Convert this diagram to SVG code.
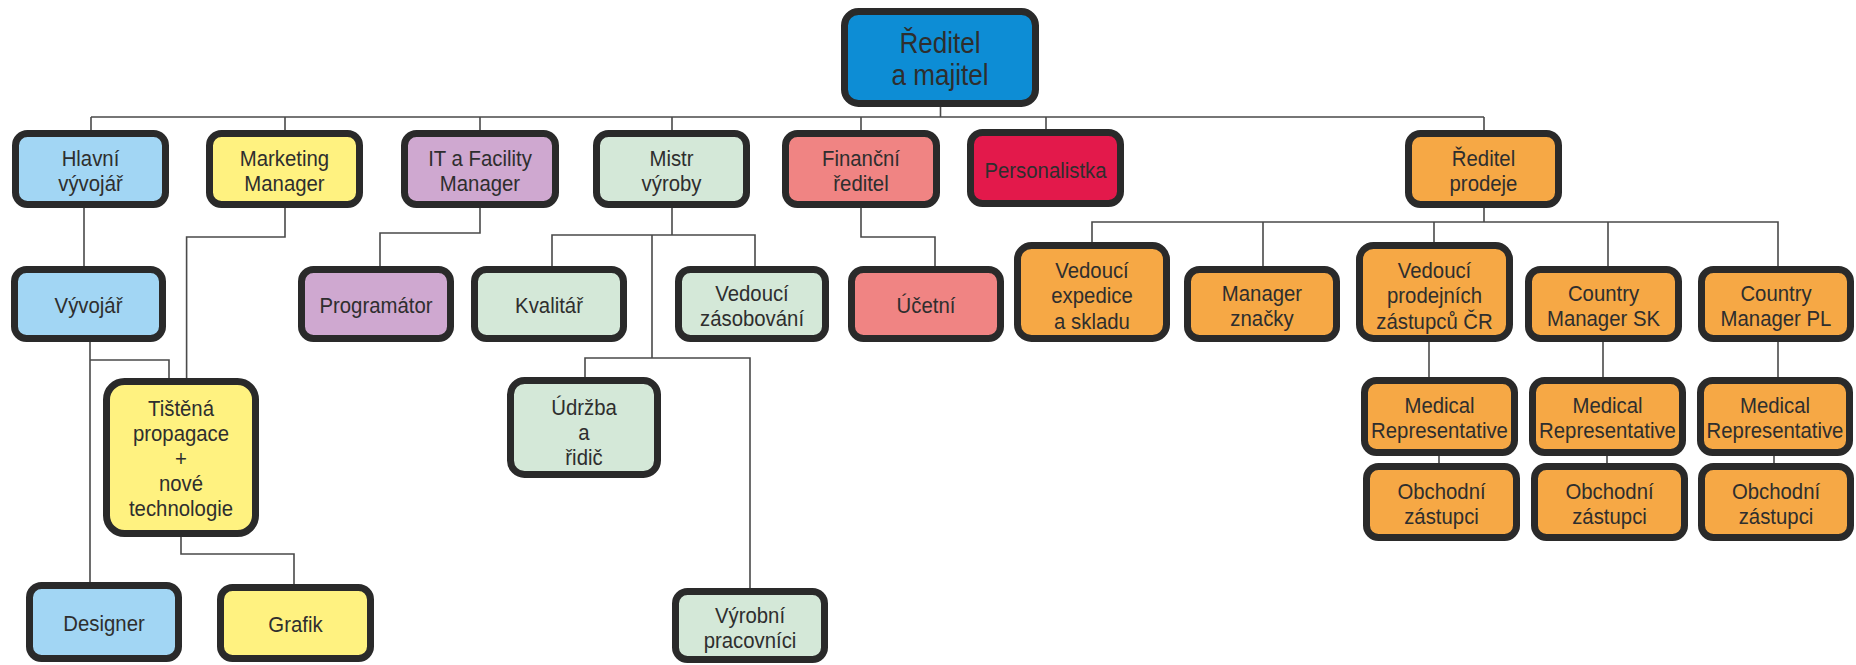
<svg xmlns="http://www.w3.org/2000/svg" width="1856" height="665" viewBox="0 0 1856 665">
<style>
.n rect{stroke:#2a2a2a;stroke-width:7;}
.t{font-family:"Liberation Sans",Arial,sans-serif;font-size:22px;fill:#2e2e2e;text-anchor:middle;}
.big{font-size:29px;}
.blue{fill:#0d8dd5}.lblue{fill:#a2d6f4}.yel{fill:#fff280}.pur{fill:#cfa8d0}.grn{fill:#d4e8d8}.sal{fill:#f08483}.red{fill:#e3194b}.org{fill:#f6a845}
#connectors path{fill:none;stroke:#4a4a4a;stroke-width:1.6;}
</style>
<rect width="1856" height="665" fill="#ffffff"/>
<g id="connectors">
<path d="M940.5 107V117M91 117H1484M91 117V130M285 117V130M480 117V130M672 117V130M861 117V130M1046 117V130M1484 117V130"/>
<path d="M84 208V266"/>
<path d="M90 342V582M90 360H169V378"/>
<path d="M285 208V237H186.6V378"/>
<path d="M181 537V554H294V584"/>
<path d="M480 208V233H380V266"/>
<path d="M672 208V235M552 266V235H755V266M652 235V358M585 377V358H750V588"/>
<path d="M861 208V237H935V266"/>
<path d="M1484 208V222M1092 242V222H1778V266M1263 222V266M1434 222V242M1608 222V266"/>
<path d="M1429 342V377M1603 342V377M1778 342V377"/>
<path d="M1439 456V463M1607 456V463M1774 456V463"/>
</g>
<g id="n-reditel" class="n"><rect x="844.5" y="11.5" width="191" height="92" rx="14" class="blue"/><text class="t big" transform="translate(940 0) scale(0.9 1)"><tspan x="0" y="53">Ředitel</tspan><tspan x="0" y="85">a majitel</tspan></text></g>
<g id="n-hlavni" class="n"><rect x="15.5" y="133.5" width="150" height="71" rx="12" class="lblue"/><text class="t" transform="translate(90.5 0) scale(0.925 1)"><tspan x="0" y="166">Hlavní</tspan><tspan x="0" y="191">vývojář</tspan></text></g>
<g id="n-marketing" class="n"><rect x="209.5" y="133.5" width="150" height="71" rx="12" class="yel"/><text class="t" transform="translate(284.5 0) scale(0.925 1)"><tspan x="0" y="166">Marketing</tspan><tspan x="0" y="191">Manager</tspan></text></g>
<g id="n-it" class="n"><rect x="404.5" y="133.5" width="151" height="71" rx="12" class="pur"/><text class="t" transform="translate(480 0) scale(0.925 1)"><tspan x="0" y="166">IT a Facility</tspan><tspan x="0" y="191">Manager</tspan></text></g>
<g id="n-mistr" class="n"><rect x="596.5" y="133.5" width="150" height="71" rx="12" class="grn"/><text class="t" transform="translate(671.5 0) scale(0.925 1)"><tspan x="0" y="166">Mistr</tspan><tspan x="0" y="191">výroby</tspan></text></g>
<g id="n-financni" class="n"><rect x="785.5" y="133.5" width="151" height="71" rx="12" class="sal"/><text class="t" transform="translate(861 0) scale(0.925 1)"><tspan x="0" y="166">Finanční</tspan><tspan x="0" y="191">ředitel</tspan></text></g>
<g id="n-personalistka" class="n"><rect x="970.5" y="132.5" width="150" height="71" rx="12" class="red"/><text class="t" transform="translate(1045.5 0) scale(0.925 1)"><tspan x="0" y="178">Personalistka</tspan></text></g>
<g id="n-reditel-prodeje" class="n"><rect x="1408.5" y="133.5" width="150" height="71" rx="12" class="org"/><text class="t" transform="translate(1483.5 0) scale(0.925 1)"><tspan x="0" y="166">Ředitel</tspan><tspan x="0" y="191">prodeje</tspan></text></g>
<g id="n-vyvojar" class="n"><rect x="14.5" y="269.5" width="148" height="69" rx="12" class="lblue"/><text class="t" transform="translate(88.5 0) scale(0.925 1)"><tspan x="0" y="313">Vývojář</tspan></text></g>
<g id="n-programator" class="n"><rect x="301.5" y="269.5" width="149" height="69" rx="12" class="pur"/><text class="t" transform="translate(376 0) scale(0.925 1)"><tspan x="0" y="313">Programátor</tspan></text></g>
<g id="n-kvalitar" class="n"><rect x="474.5" y="269.5" width="149" height="69" rx="12" class="grn"/><text class="t" transform="translate(549 0) scale(0.925 1)"><tspan x="0" y="313">Kvalitář</tspan></text></g>
<g id="n-zasobovani" class="n"><rect x="678.5" y="269.5" width="147" height="69" rx="12" class="grn"/><text class="t" transform="translate(752 0) scale(0.925 1)"><tspan x="0" y="301.5">Vedoucí</tspan><tspan x="0" y="326.5">zásobování</tspan></text></g>
<g id="n-ucetni" class="n"><rect x="851.5" y="269.5" width="149" height="69" rx="12" class="sal"/><text class="t" transform="translate(926 0) scale(0.925 1)"><tspan x="0" y="313">Účetní</tspan></text></g>
<g id="n-expedice" class="n"><rect x="1017.5" y="245.5" width="149" height="93" rx="14" class="org"/><text class="t" transform="translate(1092 0) scale(0.925 1)"><tspan x="0" y="278">Vedoucí</tspan><tspan x="0" y="303.5">expedice</tspan><tspan x="0" y="329">a skladu</tspan></text></g>
<g id="n-znacky" class="n"><rect x="1187.5" y="269.5" width="149" height="69" rx="12" class="org"/><text class="t" transform="translate(1262 0) scale(0.925 1)"><tspan x="0" y="301.5">Manager</tspan><tspan x="0" y="326.5">značky</tspan></text></g>
<g id="n-prodejnich" class="n"><rect x="1359.5" y="245.5" width="150" height="93" rx="14" class="org"/><text class="t" transform="translate(1434.5 0) scale(0.925 1)"><tspan x="0" y="278">Vedoucí</tspan><tspan x="0" y="303.5">prodejních</tspan><tspan x="0" y="329">zástupců ČR</tspan></text></g>
<g id="n-cm-sk" class="n"><rect x="1528.5" y="269.5" width="150" height="69" rx="12" class="org"/><text class="t" transform="translate(1603.5 0) scale(0.925 1)"><tspan x="0" y="301.5">Country</tspan><tspan x="0" y="326.5">Manager SK</tspan></text></g>
<g id="n-cm-pl" class="n"><rect x="1701.5" y="269.5" width="149" height="69" rx="12" class="org"/><text class="t" transform="translate(1776 0) scale(0.925 1)"><tspan x="0" y="301.5">Country</tspan><tspan x="0" y="326.5">Manager PL</tspan></text></g>
<g id="n-tistena" class="n"><rect x="106.5" y="381.5" width="149" height="152" rx="18" class="yel"/><text class="t" transform="translate(181 0) scale(0.925 1)"><tspan x="0" y="416">Tištěná</tspan><tspan x="0" y="441">propagace</tspan><tspan x="0" y="466">+</tspan><tspan x="0" y="491">nové</tspan><tspan x="0" y="516">technologie</tspan></text></g>
<g id="n-udrzba" class="n"><rect x="510.5" y="380.5" width="147" height="94" rx="14" class="grn"/><text class="t" transform="translate(584 0) scale(0.925 1)"><tspan x="0" y="415">Údržba</tspan><tspan x="0" y="440">a</tspan><tspan x="0" y="465">řidič</tspan></text></g>
<g id="n-mr1" class="n"><rect x="1364.5" y="380.5" width="150" height="72" rx="12" class="org"/><text class="t" transform="translate(1439.5 0) scale(0.925 1)"><tspan x="0" y="413">Medical</tspan><tspan x="0" y="438">Representative</tspan></text></g>
<g id="n-mr2" class="n"><rect x="1532.5" y="380.5" width="150" height="72" rx="12" class="org"/><text class="t" transform="translate(1607.5 0) scale(0.925 1)"><tspan x="0" y="413">Medical</tspan><tspan x="0" y="438">Representative</tspan></text></g>
<g id="n-mr3" class="n"><rect x="1700.5" y="380.5" width="149" height="72" rx="12" class="org"/><text class="t" transform="translate(1775 0) scale(0.925 1)"><tspan x="0" y="413">Medical</tspan><tspan x="0" y="438">Representative</tspan></text></g>
<g id="n-oz1" class="n"><rect x="1366.5" y="466.5" width="150" height="71" rx="12" class="org"/><text class="t" transform="translate(1441.5 0) scale(0.925 1)"><tspan x="0" y="499">Obchodní</tspan><tspan x="0" y="524">zástupci</tspan></text></g>
<g id="n-oz2" class="n"><rect x="1534.5" y="466.5" width="150" height="71" rx="12" class="org"/><text class="t" transform="translate(1609.5 0) scale(0.925 1)"><tspan x="0" y="499">Obchodní</tspan><tspan x="0" y="524">zástupci</tspan></text></g>
<g id="n-oz3" class="n"><rect x="1701.5" y="466.5" width="149" height="71" rx="12" class="org"/><text class="t" transform="translate(1776 0) scale(0.925 1)"><tspan x="0" y="499">Obchodní</tspan><tspan x="0" y="524">zástupci</tspan></text></g>
<g id="n-designer" class="n"><rect x="29.5" y="585.5" width="149" height="73" rx="12" class="lblue"/><text class="t" transform="translate(104 0) scale(0.925 1)"><tspan x="0" y="631">Designer</tspan></text></g>
<g id="n-grafik" class="n"><rect x="220.5" y="587.5" width="150" height="71" rx="12" class="yel"/><text class="t" transform="translate(295.5 0) scale(0.925 1)"><tspan x="0" y="632">Grafik</tspan></text></g>
<g id="n-vyrobni" class="n"><rect x="675.5" y="591.5" width="149" height="68" rx="12" class="grn"/><text class="t" transform="translate(750 0) scale(0.925 1)"><tspan x="0" y="623">Výrobní</tspan><tspan x="0" y="648">pracovníci</tspan></text></g>
</svg>
